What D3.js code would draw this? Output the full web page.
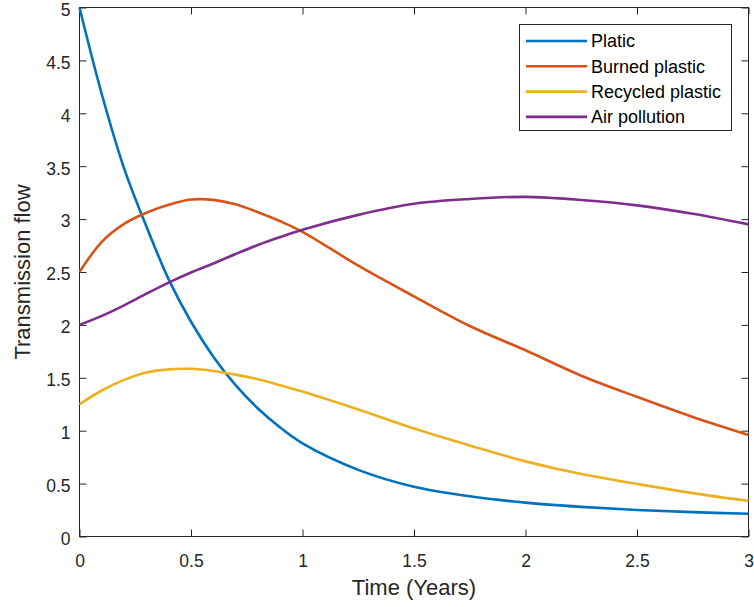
<!DOCTYPE html>
<html>
<head>
<meta charset="utf-8">
<style>
    body { margin: 0; background: #fff; }
    svg { display: block; font-family: "Liberation Sans", Arial, sans-serif; }
    .tick text { fill: #262626; font-size: 17.5px; }
    .tick line { stroke: #262626; }
</style>
<script src="https://cdn.jsdelivr.net/npm/d3@7"></script>
</head>
<body>
<svg id="chart"></svg>
<script>
// values
let time = [0, 0.1, 0.2, 0.3, 0.4, 0.5, 0.6, 0.7, 0.8, 0.9, 1.0, 1.25, 1.5, 1.75, 2.0, 2.25, 2.5, 2.75, 3.0]
let platic = [5.0, 4.18, 3.48, 2.93, 2.43, 2.03, 1.70, 1.43, 1.21, 1.03, 0.88, 0.63, 0.47, 0.38, 0.32, 0.28, 0.25, 0.23, 0.215]
let burned = [2.5, 2.785, 2.955, 3.06, 3.135, 3.185, 3.182, 3.14, 3.065, 2.98, 2.88, 2.56, 2.27, 1.99, 1.76, 1.52, 1.32, 1.13, 0.96]
let recycled = [1.25, 1.38, 1.48, 1.55, 1.58, 1.585, 1.565, 1.53, 1.487, 1.43, 1.37, 1.2, 1.02, 0.86, 0.71, 0.59, 0.497, 0.41, 0.336]
let air = [2.0, 2.085, 2.185, 2.295, 2.4, 2.495, 2.58, 2.67, 2.755, 2.83, 2.9, 3.04, 3.145, 3.19, 3.21, 3.18, 3.13, 3.05, 2.95]

let seriesNames = ["Platic", "Burned plastic", "Recycled plastic", "Air pollution"]
let seriesValues = [platic, burned, recycled, air]
let colors = ["#0072BD", "#D95319", "#EDB120", "#7E2F8E"]

let xTicks = [0, 0.5, 1, 1.5, 2, 2.5, 3]
let yTicks = [0, 0.5, 1, 1.5, 2, 2.5, 3, 3.5, 4, 4.5, 5]

function getConfig() {
    let width = 754
    let height = 607
    let margin = { top: 7.5, bottom: 70.5, left: 79.5, right: 5.5 }
    let bodyWidth = width - margin.left - margin.right
    let bodyHeight = height - margin.top - margin.bottom
    let container = d3.select("#chart").attr("width", width).attr("height", height)
    return { width, height, margin, bodyWidth, bodyHeight, container }
}

function getScales(config) {
    let { bodyWidth, bodyHeight } = config
    let xScale = d3.scaleLinear().domain([0, 3]).range([0, bodyWidth])
    let yScale = d3.scaleLinear().domain([0, 5]).range([bodyHeight, 0])
    return { xScale, yScale }
}

function drawAxes(scales, config) {
    let { xScale, yScale } = scales
    let { container, margin, bodyWidth, bodyHeight } = config
    let body = container.append("g").attr("transform", `translate(${margin.left},${margin.top})`)

    // bottom and left axes with labels, ticks pointing inside
    body.append("g")
        .attr("transform", `translate(0,${bodyHeight})`)
        .call(d3.axisBottom(xScale).tickValues(xTicks).tickFormat(d3.format("")).tickSizeInner(-7).tickSizeOuter(0).tickPadding(18))
        .call(g => g.select(".domain").remove())
    body.append("g")
        .call(d3.axisLeft(yScale).tickValues(yTicks).tickFormat(d3.format("")).tickSizeInner(-7).tickSizeOuter(0).tickPadding(9))
        .call(g => g.select(".domain").remove())
        .call(g => g.selectAll(".tick text").attr("dy", "0.45em"))

    // mirrored ticks on top and right
    body.append("g")
        .call(d3.axisTop(xScale).tickValues(xTicks).tickFormat("").tickSizeInner(-7).tickSizeOuter(0))
        .call(g => g.select(".domain").remove())
    body.append("g")
        .attr("transform", `translate(${bodyWidth},0)`)
        .call(d3.axisRight(yScale).tickValues(yTicks).tickFormat("").tickSizeInner(-7).tickSizeOuter(0))
        .call(g => g.select(".domain").remove())

    body.append("rect")
        .attr("width", bodyWidth)
        .attr("height", bodyHeight)
        .attr("fill", "none")
        .attr("stroke", "#262626")
        .attr("stroke-width", 1)

    container.append("text")
        .attr("x", margin.left + bodyWidth / 2)
        .attr("y", 595)
        .attr("text-anchor", "middle")
        .attr("fill", "#262626")
        .style("font-size", "22px")
        .text("Time (Years)")

    container.append("text")
        .attr("transform", `translate(29.5,${margin.top + bodyHeight / 2}) rotate(-90)`)
        .attr("text-anchor", "middle")
        .attr("fill", "#262626")
        .style("font-size", "22px")
        .text("Transmission flow")
    return body
}

function drawLines(body, scales) {
    let { xScale, yScale } = scales
    let line = d3.line()
        .x((d, i) => xScale(time[i]))
        .y(d => yScale(d))
        .curve(d3.curveCatmullRom.alpha(0.5))

    seriesValues.forEach((vals, i) => {
        body.append("path")
            .attr("d", line(vals))
            .attr("fill", "none")
            .attr("stroke", colors[i])
            .attr("stroke-width", 2.6)
    })
}

function drawLegend(config) {
    let { container } = config
    let legend = container.append("g")
    legend.append("rect")
        .attr("x", 519.5).attr("y", 24.5)
        .attr("width", 212).attr("height", 106)
        .attr("fill", "#fff")
        .attr("stroke", "#262626")
        .attr("stroke-width", 1)

    seriesNames.forEach((name, i) => {
        let y = 41 + i * 25.3
        legend.append("line")
            .attr("x1", 526).attr("x2", 587)
            .attr("y1", y).attr("y2", y)
            .attr("stroke", colors[i])
            .attr("stroke-width", 2.6)
        legend.append("text")
            .attr("x", 591)
            .attr("y", y)
            .attr("dy", "0.35em")
            .attr("fill", "#000")
            .style("font-size", "18px")
            .text(name)
    })
}

let config = getConfig()
let scales = getScales(config)
let body = drawAxes(scales, config)
drawLines(body, scales)
drawLegend(config)
</script>
</body>
</html>
